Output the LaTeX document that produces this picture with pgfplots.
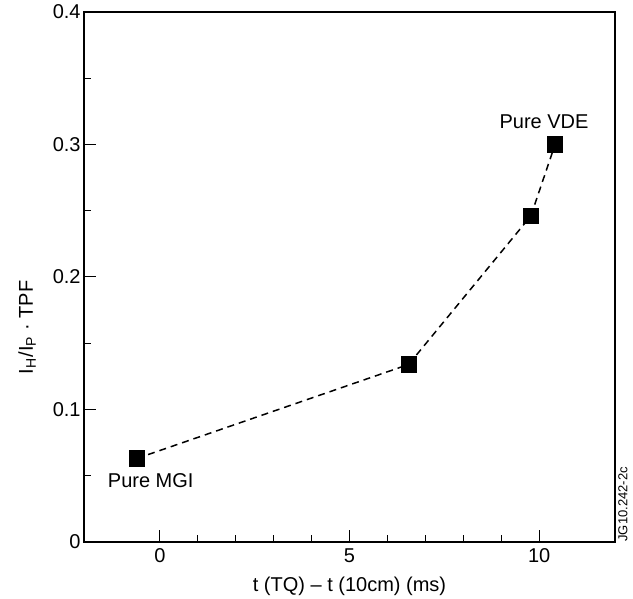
\documentclass[border=0pt]{standalone}
\usepackage{fontspec}
\setmainfont{Liberation Sans}
\usepackage{pgfplots}
\pgfplotsset{compat=1.18}
\begin{document}
\begin{tikzpicture}
\begin{axis}[
  at={(0,0)}, anchor=south west,
  width=265.5pt, height=265pt, scale only axis,
  xmin=-2, xmax=12, ymin=0, ymax=0.4,
  xtick={0,5,10}, minor x tick num=4,
  ytick={0,0.1,0.2,0.3,0.4}, minor y tick num=1,
  tick pos=left, tick align=inside,
  major tick length=6pt, minor tick length=3.5pt,
  tick style={black, line width=0.5pt},
  axis line style={line width=0.8pt},
  font=\fontsize{10}{12}\selectfont,
  /pgf/number format/assume math mode=true,
  scaled y ticks=false,
  yticklabel style={/pgf/number format/fixed, /pgf/number format/precision=1, inner sep=1.5pt},
  xticklabel style={inner sep=1pt, yshift=-2pt},
  xlabel={t (TQ) -- t (10cm) (ms)},
  ylabel={I\textsubscript{H}/I\textsubscript{P} · TPF},
  xlabel style={at={(axis description cs:0.5,-0.083)}, anchor=center},
  ylabel style={at={(axis description cs:-0.107,0.405)}, anchor=center},
  clip=false,
]
% heat-load fraction versus thermal-quench timing
\addplot[black, line width=0.75pt, dash pattern=on 3.5pt off 2.5pt,
  mark=square*, mark size=3.7pt, mark options={solid}]
  coordinates {(-0.61,0.063) (6.56,0.134) (9.78,0.246) (10.42,0.300)};
\node at (axis cs:-0.24,0.046) {Pure MGI};
\node at (axis cs:10.13,0.317) {Pure VDE};
\node[xshift=1.5pt, rotate=90, anchor=north west, inner sep=0pt,
  font=\fontsize{6.5}{7}\selectfont] at (rel axis cs:1,0) {JG10.242-2c};
\end{axis}
\pgfresetboundingbox
\path (-42pt,-28.5pt) rectangle (274.5pt,271pt);
\end{tikzpicture}
\end{document}
